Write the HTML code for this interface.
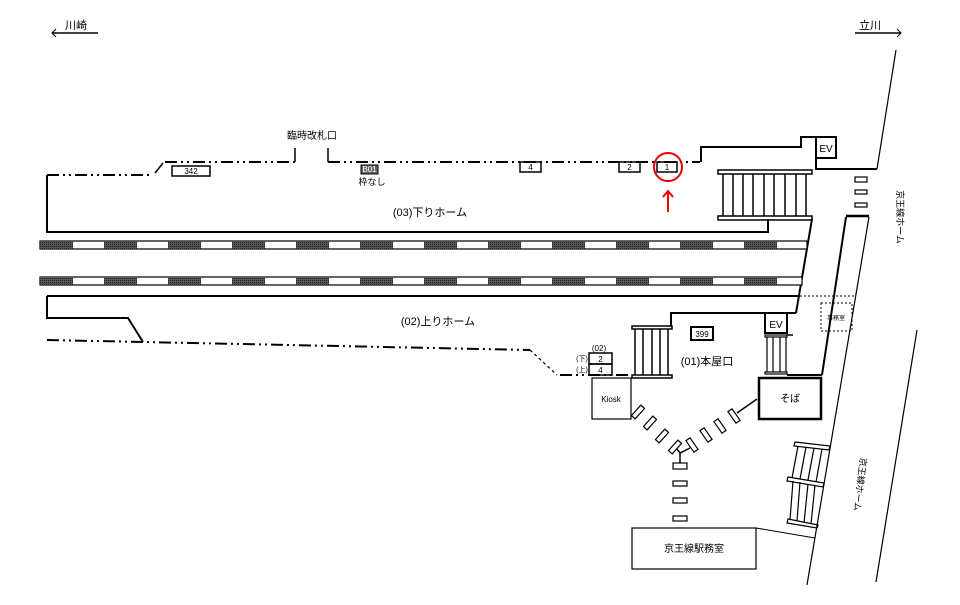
<!DOCTYPE html>
<html><head><meta charset="utf-8"><style>
html,body{margin:0;padding:0;background:#fff;}
svg{display:block;font-family:"Liberation Sans","Noto Sans CJK JP",sans-serif;}
</style></head><body>
<svg width="960" height="605" viewBox="0 0 960 605" xmlns="http://www.w3.org/2000/svg">
<defs>
<pattern id="dk" width="2" height="2" patternUnits="userSpaceOnUse"><rect width="2" height="2" fill="#555"/><rect width="1" height="1" fill="#222"/></pattern>
</defs>
<g fill="none" stroke="#000">
<!-- direction arrows -->
<line x1="52" y1="33" x2="98" y2="33" stroke-width="1.5"/>
<polyline points="56,29 52,33 56,37" stroke-width="1"/>
<line x1="855" y1="33" x2="900" y2="33" stroke-width="1.5"/>
<polyline points="897,29 901,33 897,37" stroke-width="1"/>

<!-- down platform top -->
<g stroke-width="2" stroke-dasharray="12,4,2,4,2,4">
<line x1="47" y1="175" x2="153" y2="175"/>
<line x1="165" y1="162" x2="295" y2="162"/>
<line x1="328" y1="162" x2="700" y2="162"/>
</g>
<line x1="155" y1="173" x2="163" y2="163" stroke-width="1.5"/>
<line x1="295" y1="148" x2="295" y2="162" stroke-width="1.5"/>
<line x1="328" y1="148" x2="328" y2="162" stroke-width="1.5"/>
<polyline points="701,162 701,147 801,147 801,137 816,137" stroke-width="2"/>
<rect x="816" y="137" width="20" height="21" stroke-width="2"/>
<polyline points="816,158 816,169 877,169" stroke-width="2"/>
<line x1="877" y1="169" x2="896" y2="50" stroke-width="1.2"/>
<polyline points="47,175 47,232 768,232 768,219" stroke-width="2"/>

<!-- top stairs -->
<rect x="718" y="170" width="94" height="4" stroke-width="1.5"/>
<rect x="718" y="216" width="94" height="4" stroke-width="1.5"/>
<g stroke-width="1.5">
<line x1="723" y1="174" x2="723" y2="216"/><line x1="733" y1="174" x2="733" y2="216"/><line x1="743" y1="174" x2="743" y2="216"/><line x1="753" y1="174" x2="753" y2="216"/><line x1="764" y1="174" x2="764" y2="216"/><line x1="774" y1="174" x2="774" y2="216"/><line x1="785" y1="174" x2="785" y2="216"/><line x1="796" y1="174" x2="796" y2="216"/><line x1="806" y1="174" x2="806" y2="216"/>
</g>
<!-- slots -->
<rect x="855" y="177" width="12" height="5" stroke-width="1.2"/>
<rect x="855" y="190" width="12" height="4" stroke-width="1.2"/>
<rect x="855" y="203" width="12" height="4" stroke-width="1.2"/>

<!-- right structure lines -->
<line x1="812" y1="219" x2="796" y2="313" stroke-width="2"/>
<line x1="846" y1="216" x2="869" y2="216" stroke-width="2.5"/>
<line x1="846" y1="217" x2="822" y2="375" stroke-width="2"/>
<line x1="869" y1="217" x2="807" y2="585" stroke-width="1.2"/>
<line x1="917" y1="330" x2="876" y2="582" stroke-width="1.2"/>
</g>

<!-- tracks -->
<g>
<rect x="40" y="241" width="767" height="8" fill="#fff" stroke="#000" stroke-width="1.2"/>
<rect x="40" y="277" width="762" height="8" fill="#fff" stroke="#000" stroke-width="1.2"/>
<g fill="url(#dk)">
<rect x="40" y="241" width="33" height="8"/><rect x="104" y="241" width="33" height="8"/><rect x="168" y="241" width="33" height="8"/><rect x="232" y="241" width="33" height="8"/><rect x="296" y="241" width="33" height="8"/><rect x="360" y="241" width="33" height="8"/><rect x="424" y="241" width="33" height="8"/><rect x="488" y="241" width="33" height="8"/><rect x="552" y="241" width="33" height="8"/><rect x="616" y="241" width="33" height="8"/><rect x="680" y="241" width="33" height="8"/><rect x="744" y="241" width="33" height="8"/>
<rect x="40" y="277" width="33" height="8"/><rect x="104" y="277" width="33" height="8"/><rect x="168" y="277" width="33" height="8"/><rect x="232" y="277" width="33" height="8"/><rect x="296" y="277" width="33" height="8"/><rect x="360" y="277" width="33" height="8"/><rect x="424" y="277" width="33" height="8"/><rect x="488" y="277" width="33" height="8"/><rect x="552" y="277" width="33" height="8"/><rect x="616" y="277" width="33" height="8"/><rect x="680" y="277" width="33" height="8"/><rect x="744" y="277" width="33" height="8"/>
</g>
</g>

<g fill="none" stroke="#000">
<!-- up platform -->
<line x1="47" y1="296" x2="800" y2="296" stroke-width="2"/>
<line x1="800" y1="296" x2="855" y2="296" stroke-width="1" stroke-dasharray="2,2"/>
<rect x="821" y="303" width="31" height="28" stroke-width="1" stroke-dasharray="2,2"/>
<polyline points="47,296 47,318 128,318 143,342" stroke-width="2"/>
<g stroke-width="2" stroke-dasharray="12,4,2,4,2,4">
<line x1="47" y1="340" x2="530" y2="350"/>
<line x1="560" y1="375" x2="631" y2="375"/>
</g>
<line x1="530" y1="350" x2="557" y2="375" stroke-width="1.2" stroke-dasharray="3,3"/>
<polyline points="796,313 671,313 671,327" stroke-width="2"/>
<!-- middle stairs -->
<rect x="632" y="326" width="40" height="3" stroke-width="1.5"/>
<rect x="632" y="375" width="40" height="3" stroke-width="1.5"/>
<g stroke-width="1.5"><line x1="635" y1="329" x2="635" y2="375"/><line x1="643" y1="329" x2="643" y2="375"/><line x1="652" y1="329" x2="652" y2="375"/><line x1="660" y1="329" x2="660" y2="375"/><line x1="668" y1="329" x2="668" y2="375"/></g>
<!-- EV2 -->
<rect x="765" y="313" width="22" height="20" stroke-width="2"/>
<line x1="787" y1="335" x2="793" y2="335" stroke-width="1.5"/>
<rect x="765" y="335" width="22" height="2" stroke-width="1.2"/>
<rect x="765" y="372" width="22" height="2" stroke-width="1.2"/>
<g stroke-width="1.2"><line x1="767" y1="337" x2="767" y2="372"/><line x1="773" y1="337" x2="773" y2="372"/><line x1="780" y1="337" x2="780" y2="372"/><line x1="786" y1="337" x2="786" y2="372"/></g>
<line x1="787" y1="375" x2="822" y2="375" stroke-width="2"/>
<!-- 399 -->
<rect x="691" y="327" width="22" height="13" stroke-width="2"/>
<!-- small boxes (02) -->
<rect x="589" y="353" width="23" height="11" stroke-width="1.5"/>
<rect x="589" y="364" width="23" height="11" stroke-width="1.5"/>
<!-- Kiosk / soba -->
<rect x="592" y="378" width="39" height="41" stroke-width="1.2"/>
<rect x="759" y="378" width="62" height="41" stroke-width="2.5"/>
<line x1="757" y1="399" x2="737" y2="413" stroke-width="1.5"/>
<!-- diagonal slots -->
<g stroke-width="1.2">
<rect x="-7" y="-2.5" width="14" height="5" transform="translate(638,412) rotate(-48)"/>
<rect x="-7" y="-2.5" width="14" height="5" transform="translate(650,423) rotate(-48)"/>
<rect x="-7" y="-2.5" width="14" height="5" transform="translate(662,436) rotate(-48)"/>
<rect x="-7" y="-2.5" width="14" height="5" transform="translate(675,447) rotate(-48)"/>
<rect x="-7" y="-2.5" width="14" height="5" transform="translate(734,416) rotate(55)"/>
<rect x="-7" y="-2.5" width="14" height="5" transform="translate(720,426) rotate(55)"/>
<rect x="-7" y="-2.5" width="14" height="5" transform="translate(706,435) rotate(55)"/>
<rect x="-7" y="-2.5" width="14" height="5" transform="translate(692,445) rotate(55)"/>
</g>
<polyline points="677,449 680,453 690,448" stroke-width="1.5"/>
<line x1="680" y1="453" x2="680" y2="463" stroke-width="1.5"/>
<g stroke-width="1.2">
<rect x="673" y="463" width="14" height="6"/>
<rect x="673" y="481" width="14" height="5"/>
<rect x="673" y="498" width="14" height="5"/>
<rect x="673" y="516" width="14" height="5"/>
</g>
<!-- office -->
<rect x="632" y="528" width="124" height="41" stroke-width="1.2"/>
<line x1="756" y1="528" x2="815" y2="538" stroke-width="1"/>
<!-- lower slanted stairs -->
<g stroke-width="1.2">
<polygon points="795,442 830,446 829,450 794,446"/>
<polygon points="788,477 824,483 823,487 787,481"/>
<polygon points="788,519 818,525 817,528 787,523"/>
<line x1="798" y1="446" x2="792" y2="478"/><line x1="806" y1="447" x2="800" y2="479"/><line x1="814" y1="448" x2="808" y2="480"/><line x1="822" y1="449" x2="816" y2="482"/>
<line x1="793" y1="481" x2="790" y2="520"/><line x1="800" y1="482" x2="797" y2="521"/><line x1="808" y1="484" x2="804" y2="523"/><line x1="815" y1="485" x2="811" y2="524"/>
</g>
<!-- red marker -->
<circle cx="668" cy="167" r="14" stroke="#e00" stroke-width="2"/>
<line x1="668" y1="212" x2="668" y2="192" stroke="#e00" stroke-width="2"/>
<polyline points="663,197 668,191 673,197" stroke="#e00" stroke-width="2"/>
<!-- number boxes -->
<rect x="172" y="166" width="38" height="10" stroke-width="1.5"/>
<rect x="520" y="162" width="21" height="10" stroke-width="1.5"/>
<rect x="619" y="162" width="21" height="10" stroke-width="1.5"/>
<rect x="657" y="162" width="20" height="10" stroke-width="1.5"/>
</g>
<rect x="361" y="165" width="17" height="9" fill="#666" stroke="#000" stroke-width="1"/>

<g fill="#000" font-size="9" text-anchor="middle">
<text x="76" y="29" font-size="11">川崎</text>
<text x="870" y="29" font-size="11">立川</text>
<text x="312" y="139" font-size="10">臨時改札口</text>
<text x="191" y="174" font-size="8">342</text>
<text x="369.5" y="172" font-size="8" fill="#fff">B01</text>
<text x="372" y="185" font-size="9">枠なし</text>
<text x="530.5" y="170" font-size="8">4</text>
<text x="629.5" y="170" font-size="8">2</text>
<text x="667" y="170" font-size="8">1</text>
<text x="826" y="152" font-size="10">EV</text>
<text x="776" y="328" font-size="10">EV</text>
<text x="430" y="216" font-size="11">(03)下りホーム</text>
<text x="438" y="325" font-size="11">(02)上りホーム</text>
<text x="702" y="337" font-size="8">399</text>
<text x="707" y="365" font-size="11">(01)本屋口</text>
<text x="599" y="351" font-size="8">(02)</text>
<text x="582" y="361" font-size="7">(下)</text>
<text x="582" y="372" font-size="7">(上)</text>
<text x="600.5" y="362" font-size="8">2</text>
<text x="600.5" y="373" font-size="8">4</text>
<text x="611" y="402" font-size="8">Kiosk</text>
<text x="790" y="402" font-size="10">そば</text>
<text x="694" y="552" font-size="10">京王線駅務室</text>
<text x="836" y="320" font-size="6">事務室</text>
<text transform="translate(897,217) rotate(90)" font-size="9">京王線ホーム</text>
<text transform="translate(857,484) rotate(97)" font-size="9">京王線ホーム</text>
</g>
</svg>
</body></html>
